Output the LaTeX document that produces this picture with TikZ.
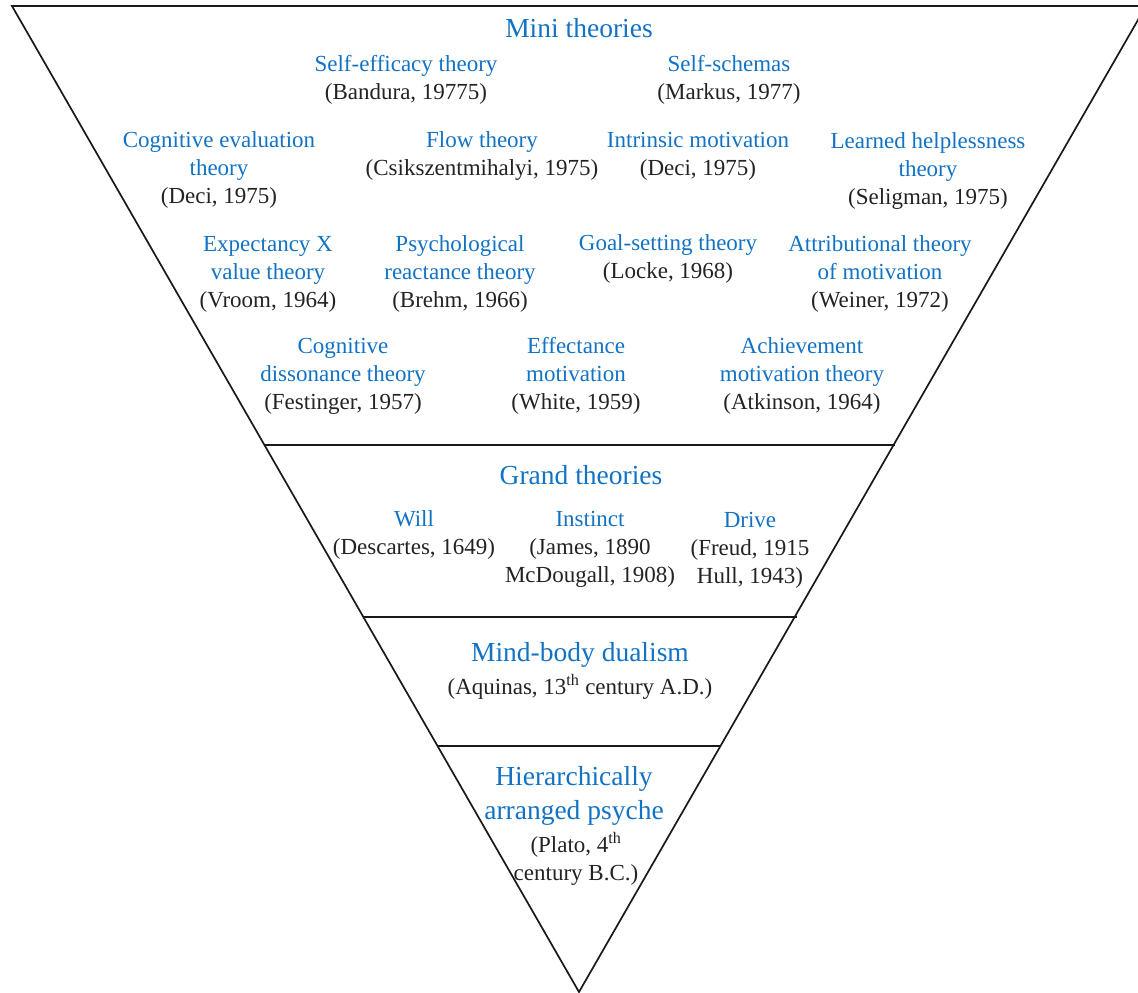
\documentclass[tikz,border=0pt]{standalone}
\usepackage{fontspec}
\setmainfont{Liberation Serif}
\definecolor{theoryblue}{RGB}{18,114,196}
\definecolor{citegray}{RGB}{35,35,35}
\newcommand{\tname}[1]{\textcolor{theoryblue}{#1}}
\tikzstyle{theory}=[align=center,inner sep=0pt,text=citegray,font=\fontsize{23}{28}\selectfont]
\tikzstyle{level}=[align=center,inner sep=0pt,text=theoryblue,font=\fontsize{27.5}{34}\selectfont]
\tikzstyle{edge}=[line width=1.7pt,black!90]

\begin{document}
\begin{tikzpicture}[x=1pt,y=-1pt]
		\useasboundingbox (0,0) rectangle (1138,993);
		\clip (0,0) rectangle (1138,993);
		% the funnel and its levels
		\draw[edge] (12,6) -- (1146,6) -- (579,992) -- cycle;
		\draw[edge] (265,445) -- (895,445);
		\draw[edge] (363,617) -- (797,617);
		\draw[edge] (438,746) -- (721,746);
		% mini theories
		\node[level] (mini) at (579,28) {Mini theories};
		\node[theory] (se) at (406,80) {\tname{Self-efficacy theory}\\(Bandura, 19775)};
		\node[theory] (ss) at (729,80) {\tname{Self-schemas}\\(Markus, 1977)};
		\node[theory] (ce) at (219,170) {\tname{Cognitive evaluation}\\\tname{theory}\\(Deci, 1975)};
		\node[theory] (fl) at (482,156) {\tname{Flow theory}\\(Csikszentmihalyi, 1975)};
		\node[theory] (im) at (698,156) {\tname{Intrinsic motivation}\\(Deci, 1975)};
		\node[theory] (lh) at (928,171) {\tname{Learned helplessness}\\\tname{theory}\\(Seligman, 1975)};
		\node[theory] (ev) at (268,274) {\tname{Expectancy X}\\\tname{value theory}\\(Vroom, 1964)};
		\node[theory] (pr) at (460,274) {\tname{Psychological}\\\tname{reactance theory}\\(Brehm, 1966)};
		\node[theory] (gs) at (668,259) {\tname{Goal-setting theory}\\(Locke, 1968)};
		\node[theory] (at) at (880,274) {\tname{Attributional theory}\\\tname{of motivation}\\(Weiner, 1972)};
		\node[theory] (cd) at (343,376) {\tname{Cognitive}\\\tname{dissonance theory}\\(Festinger, 1957)};
		\node[theory] (em) at (576,376) {\tname{Effectance}\\\tname{motivation}\\(White, 1959)};
		\node[theory] (am) at (802,376) {\tname{Achievement}\\\tname{motivation theory}\\(Atkinson, 1964)};
		% grand theories
		\node[level] (grand) at (581,475) {Grand theories};
		\node[theory] (wi) at (414,535) {\tname{Will}\\(Descartes, 1649)};
		\node[theory] (in) at (590,549) {\tname{Instinct}\\(James, 1890\\McDougall, 1908)};
		\node[theory] (dr) at (750,550) {\tname{Drive}\\(Freud, 1915\\Hull, 1943)};
		% mind-body dualism
		\node[level] (mb) at (580,655) {Mind-body dualism};
		\node[theory] (aq) at (580,687) {(Aquinas, 13\textsuperscript{th} century A.D.)};
		% hierarchically arranged psyche
		\node[level] (hp) at (574,796) {Hierarchically\\arranged psyche};
		\node[theory] (pl) at (576,859) {(Plato, 4\textsuperscript{th}\\century B.C.)};
\end{tikzpicture}
\end{document}
